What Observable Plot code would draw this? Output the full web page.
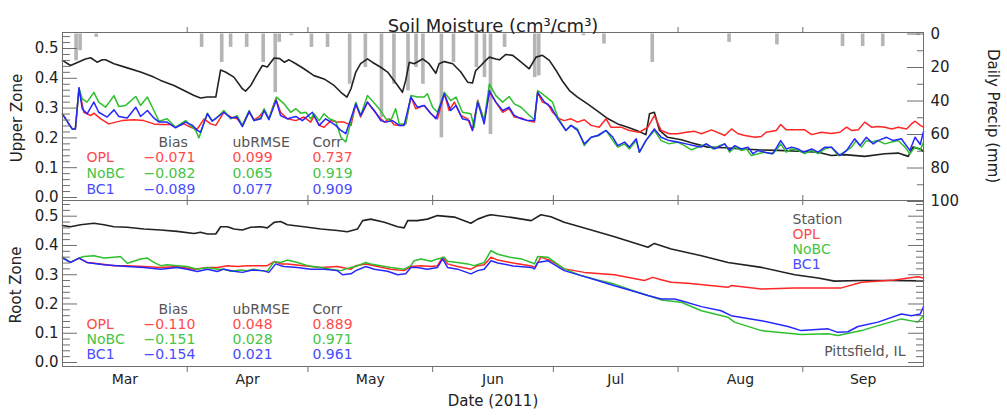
<!DOCTYPE html>
<html><head><meta charset="utf-8">
<script src="https://cdn.jsdelivr.net/npm/d3@7"></script>
<script src="https://cdn.jsdelivr.net/npm/@observablehq/plot@0.6"></script>
<style>
body{margin:0;background:#fff;}
#chart{position:relative;width:1007px;height:419px;overflow:hidden;background:#fff;}
#chart svg{position:absolute;left:0;overflow:visible;}
.rlbl{position:absolute;white-space:nowrap;font-family:"DejaVu Sans";color:#222;line-height:1;}
</style></head><body><div id="chart"></div>
<script>
// ---- data (day offset from 2011-03-01, value) ----
const upperStation = [[0,0.46],[2,0.443],[5.7,0.465],[7,0.469],[8.6,0.454],[9.9,0.462],[10.7,0.462],[12.8,0.449],[16.1,0.435],[19.4,0.421],[22.7,0.404],[24.4,0.393],[27.7,0.376],[30.2,0.359],[32.7,0.342],[34.3,0.334],[36,0.337],[38.1,0.337],[39.3,0.428],[40.5,0.421],[42.6,0.404],[44.7,0.365],[45.5,0.357],[46.8,0.376],[48.4,0.415],[49.7,0.443],[50.9,0.438],[52.6,0.468],[54,0.466],[55.1,0.454],[56.3,0.462],[58,0.449],[60,0.432],[62.5,0.409],[65,0.398],[67.5,0.376],[69.2,0.353],[70.7,0.337],[71.7,0.365],[72.9,0.421],[74.1,0.449],[75.8,0.465],[77,0.454],[79.1,0.437],[80.8,0.421],[83.3,0.376],[84.5,0.353],[85.3,0.393],[86.2,0.454],[87.4,0.449],[89.5,0.465],[91.1,0.449],[92.8,0.417],[93.6,0.449],[94.9,0.456],[97,0.449],[99,0.421],[100.7,0.387],[101.9,0.384],[102.7,0.426],[104,0.443],[105.2,0.46],[106.1,0.471],[107.7,0.465],[108.6,0.462],[110.2,0.48],[111.9,0.477],[114,0.454],[116,0.432],[117.7,0.471],[119.3,0.477],[121,0.46],[122.7,0.426],[124.3,0.39],[126,0.359],[128,0.337],[130.5,0.314],[133,0.29],[135.5,0.265],[138,0.247],[140.5,0.236],[143,0.223],[145,0.211],[145.9,0.281],[147.1,0.286],[148.4,0.225],[150.4,0.202],[153.8,0.194],[156.3,0.184],[160.4,0.169],[164.6,0.167],[168.7,0.163],[172.9,0.16],[177.9,0.158],[182.8,0.155],[187.8,0.152],[191.1,0.141],[194.4,0.144],[199.4,0.138],[204.4,0.147],[207.7,0.149],[210.2,0.138],[211.4,0.169],[213.2,0.163],[214,0.155]];
const upperOPL = [[0,0.28],[2.4,0.23],[3.2,0.23],[4.1,0.365],[5.3,0.286],[7,0.275],[7.8,0.283],[9.5,0.264],[11.5,0.247],[13.2,0.253],[14.8,0.258],[17.7,0.261],[20.2,0.258],[22.7,0.247],[24.4,0.245],[26.9,0.245],[28.1,0.236],[30.2,0.247],[31.8,0.236],[33.5,0.23],[35.2,0.264],[36.8,0.247],[38.1,0.242],[40.1,0.286],[41.8,0.27],[43.4,0.264],[44.7,0.242],[46.4,0.286],[47.6,0.261],[48.8,0.27],[50.1,0.292],[51.3,0.264],[53,0.331],[54.2,0.286],[55.9,0.264],[58,0.258],[60,0.27],[61.7,0.253],[62.5,0.275],[63.8,0.242],[65,0.236],[66.7,0.258],[68.3,0.253],[70,0.253],[71.7,0.242],[72.9,0.314],[74.1,0.27],[75.8,0.32],[77,0.298],[78.7,0.27],[80,0.253],[81.2,0.264],[82.4,0.244],[84.1,0.242],[85.3,0.247],[86.6,0.337],[87.8,0.298],[89.9,0.309],[91.6,0.281],[93.2,0.264],[94.9,0.348],[96.1,0.292],[97.4,0.32],[99,0.275],[100.7,0.264],[101.9,0.225],[103.2,0.326],[104.8,0.258],[106.1,0.353],[107.7,0.32],[109.4,0.286],[111,0.298],[112.3,0.27],[114,0.267],[115.6,0.258],[117.3,0.253],[118.1,0.353],[119.3,0.32],[120.6,0.314],[121.8,0.286],[123.5,0.264],[124.7,0.258],[126.4,0.264],[128,0.253],[129.7,0.261],[131.4,0.242],[133.4,0.236],[135.1,0.264],[136.3,0.236],[138.8,0.236],[140.9,0.225],[143.4,0.219],[145.5,0.236],[147.1,0.275],[148.8,0.225],[150.8,0.214],[152.9,0.214],[155,0.219],[157.1,0.222],[158.8,0.214],[161.3,0.227],[164.6,0.208],[166.3,0.23],[167.9,0.214],[169.6,0.208],[172.1,0.202],[173.7,0.205],[174.9,0.219],[177.4,0.225],[178.5,0.245],[179.9,0.227],[182,0.227],[184.5,0.227],[186.2,0.211],[188.6,0.219],[191.1,0.215],[193.2,0.219],[194.9,0.236],[196.1,0.225],[197.8,0.227],[199.4,0.253],[201.1,0.236],[202.7,0.238],[204.4,0.236],[206.1,0.23],[207.7,0.236],[209.8,0.23],[211,0.247],[211.9,0.256],[213.2,0.242],[214,0.236]];
const upperNoBC = [[0,0.28],[2.4,0.23],[3.2,0.23],[4.1,0.368],[4.9,0.331],[6.1,0.32],[7.8,0.353],[9,0.32],[10.7,0.303],[12.8,0.342],[14,0.305],[15.7,0.309],[18.2,0.339],[19.4,0.309],[21.1,0.337],[22.7,0.292],[24,0.256],[26,0.264],[28.1,0.236],[30.6,0.258],[31.8,0.242],[33.1,0.225],[33.9,0.2],[36,0.283],[37.2,0.258],[38.1,0.264],[40.1,0.292],[41.8,0.264],[43.4,0.275],[44.7,0.242],[46.4,0.292],[47.6,0.258],[49.3,0.267],[50.1,0.298],[51.3,0.264],[53.2,0.337],[55.1,0.314],[56.7,0.286],[58,0.298],[59.2,0.283],[60.5,0.286],[61.7,0.264],[62.5,0.281],[63.8,0.258],[65,0.281],[66.3,0.264],[67.9,0.256],[69.2,0.202],[70.4,0.186],[72.9,0.32],[74.1,0.275],[75.8,0.342],[77,0.325],[78.7,0.298],[80.4,0.264],[81.6,0.258],[82.8,0.298],[83.7,0.247],[85.3,0.247],[86.6,0.342],[88.2,0.337],[89.9,0.337],[90.7,0.348],[92,0.303],[93.2,0.286],[94.9,0.353],[96.5,0.325],[97.8,0.337],[99.4,0.286],[101.5,0.281],[102.3,0.236],[103.2,0.325],[104.8,0.258],[106.1,0.381],[107.7,0.342],[109.4,0.32],[111,0.339],[112.3,0.314],[114,0.303],[115.6,0.281],[117.3,0.261],[118.1,0.359],[119.8,0.342],[121.8,0.32],[123.1,0.27],[125.1,0.225],[126.4,0.242],[128,0.23],[129.7,0.174],[131.4,0.202],[133.4,0.208],[135.1,0.225],[136.8,0.191],[138,0.169],[139.7,0.18],[140.9,0.163],[142.6,0.191],[143.4,0.152],[145,0.191],[147.1,0.225],[148.8,0.191],[150.8,0.18],[152.9,0.186],[154.6,0.174],[156.3,0.16],[158,0.169],[160,0.18],[161.7,0.163],[163.3,0.174],[164.6,0.18],[165.8,0.152],[167.1,0.169],[168.7,0.158],[170,0.163],[171.2,0.141],[172.9,0.147],[174.5,0.152],[176.2,0.147],[177.4,0.158],[178.5,0.18],[179.9,0.152],[181.2,0.163],[182.8,0.158],[184.5,0.147],[186.2,0.158],[187.8,0.147],[189.5,0.163],[191.1,0.169],[192.8,0.141],[194.4,0.152],[196.1,0.169],[197.3,0.191],[198.6,0.169],[199.8,0.191],[201.1,0.186],[202.7,0.191],[204.4,0.18],[206.1,0.186],[207.7,0.191],[209.4,0.169],[210.6,0.147],[211.9,0.169],[213.2,0.16],[214,0.185]];
const upperBC1 = [[0,0.28],[2.4,0.23],[3.2,0.23],[4.1,0.368],[4.9,0.298],[6.1,0.281],[7.8,0.32],[9,0.286],[11.1,0.27],[12.8,0.294],[14,0.272],[16.1,0.267],[18.2,0.303],[19.4,0.272],[21.1,0.292],[22.7,0.267],[24,0.253],[26,0.253],[28.1,0.234],[30.6,0.253],[32.3,0.242],[33.5,0.225],[34.3,0.219],[36,0.281],[37.2,0.256],[40.1,0.286],[41.8,0.267],[43.4,0.27],[44.7,0.238],[46.4,0.289],[47.6,0.258],[49.3,0.264],[50.1,0.292],[51.3,0.261],[53.1,0.326],[54.2,0.275],[55.9,0.264],[58,0.272],[59.6,0.258],[62.1,0.286],[63.8,0.242],[65.4,0.264],[66.7,0.253],[67.9,0.242],[69.2,0.225],[70.4,0.214],[72.9,0.314],[74.1,0.275],[75.8,0.32],[77.5,0.292],[79.1,0.258],[80.4,0.253],[82,0.258],[83.7,0.242],[84.9,0.242],[86.6,0.337],[88.2,0.303],[89.9,0.309],[91.6,0.281],[92.8,0.264],[94.9,0.348],[96.5,0.292],[97.8,0.309],[99.4,0.264],[101.1,0.258],[101.9,0.225],[103.2,0.32],[104.8,0.247],[106.1,0.359],[107.7,0.32],[109.4,0.292],[111,0.303],[112.3,0.275],[114,0.264],[115.6,0.258],[117.3,0.258],[118.1,0.353],[119.8,0.32],[121.4,0.303],[123.1,0.264],[125.1,0.225],[126.4,0.242],[128,0.225],[129.7,0.18],[131.4,0.202],[133,0.208],[135.1,0.225],[136.8,0.202],[138,0.174],[139.7,0.186],[140.9,0.169],[142.6,0.197],[143.4,0.152],[145,0.191],[147.1,0.23],[148.8,0.202],[150.8,0.191],[152.9,0.186],[155,0.18],[157.1,0.174],[158.7,0.169],[160,0.18],[162.1,0.163],[164.6,0.18],[165.8,0.158],[167.1,0.174],[168.7,0.163],[170.4,0.169],[171.6,0.147],[172.9,0.158],[174.5,0.152],[176.6,0.147],[178.5,0.191],[179.9,0.163],[181.2,0.169],[182.8,0.163],[184.1,0.152],[186.2,0.163],[187.8,0.152],[189.5,0.169],[191.1,0.169],[193.2,0.141],[194.9,0.158],[196.9,0.197],[198.2,0.174],[199.8,0.202],[201.5,0.18],[202.7,0.191],[204.8,0.202],[206.5,0.191],[208.5,0.197],[210.6,0.158],[211.9,0.202],[213.2,0.178],[214,0.222]];

const lowerStation = [[0,0.468],[2,0.464],[4.5,0.471],[7.8,0.476],[10.3,0.471],[12.8,0.464],[16.1,0.462],[20.2,0.456],[24.4,0.453],[28.5,0.448],[32.7,0.441],[34.3,0.445],[36,0.439],[38.1,0.439],[39.3,0.464],[41,0.464],[42.6,0.456],[44.7,0.453],[46.8,0.462],[49.3,0.464],[50.9,0.46],[52.6,0.479],[54.2,0.482],[55.9,0.471],[60,0.464],[64.2,0.456],[68.3,0.451],[70.8,0.447],[73.3,0.456],[74.6,0.485],[76.6,0.49],[80,0.479],[83.3,0.464],[84.9,0.46],[85.8,0.485],[88.2,0.485],[90.7,0.49],[93.2,0.502],[97.4,0.497],[101.5,0.476],[103.2,0.49],[105.6,0.502],[106.5,0.505],[111.5,0.496],[116.5,0.485],[118.9,0.505],[121.4,0.498],[124.7,0.479],[129.7,0.46],[137.2,0.43],[145.5,0.394],[147.1,0.407],[151.3,0.388],[158.8,0.365],[165.4,0.342],[173.7,0.325],[182,0.3],[187.8,0.289],[191.9,0.278],[198.6,0.28],[205.2,0.28],[214,0.279]];
const lowerOPL = [[0,0.36],[2,0.342],[4.1,0.357],[6.1,0.342],[9.5,0.337],[12.8,0.331],[16.1,0.331],[20.2,0.328],[24.4,0.325],[28.5,0.328],[32.7,0.319],[36,0.325],[38.5,0.325],[41,0.331],[43.5,0.328],[45.9,0.331],[48.4,0.331],[50.9,0.331],[52.6,0.345],[54.2,0.337],[55.9,0.337],[60,0.331],[64.2,0.325],[68.3,0.328],[71.7,0.319],[72.9,0.331],[75.4,0.337],[78.3,0.328],[81.6,0.319],[84.9,0.314],[86.6,0.328],[89.1,0.331],[91.6,0.328],[93.2,0.331],[94.5,0.36],[95.7,0.337],[98.2,0.328],[101.5,0.319],[103.2,0.331],[104.8,0.334],[106.5,0.36],[108.2,0.35],[112,0.34],[116.5,0.33],[117.5,0.325],[118.9,0.36],[121.4,0.348],[124.7,0.32],[129.7,0.308],[137.2,0.3],[144.6,0.28],[146.7,0.291],[148.8,0.283],[151.3,0.274],[155.4,0.271],[165.4,0.257],[166.2,0.263],[173.7,0.251],[182,0.255],[193.6,0.255],[198.6,0.274],[206.8,0.282],[212.6,0.293],[214,0.289]];
const lowerNoBC = [[0,0.36],[2,0.342],[4.1,0.357],[5.3,0.362],[7.8,0.365],[10.3,0.357],[12.8,0.36],[14.4,0.362],[16.1,0.339],[17.7,0.346],[19.4,0.354],[21.1,0.357],[22.7,0.342],[24.4,0.331],[26,0.334],[28.5,0.331],[31,0.328],[33.5,0.319],[36,0.325],[38.5,0.319],[40.1,0.319],[41.8,0.312],[44.3,0.316],[45.9,0.314],[47.6,0.319],[49.3,0.314],[50.9,0.312],[52.6,0.345],[54.2,0.342],[55.9,0.35],[58.4,0.342],[60.9,0.331],[64.2,0.325],[66.7,0.319],[69.2,0.314],[71.7,0.325],[72.9,0.328],[75.4,0.342],[76.6,0.337],[79.1,0.331],[81.6,0.325],[84.9,0.319],[86.6,0.331],[87.4,0.348],[89.1,0.354],[91.6,0.346],[93.2,0.354],[94.9,0.36],[95.7,0.346],[98.2,0.342],[100.7,0.337],[102.3,0.331],[104.8,0.342],[106.5,0.382],[108.2,0.37],[111.2,0.36],[114.1,0.354],[116.5,0.342],[117.3,0.337],[118.1,0.362],[120.6,0.36],[124.7,0.32],[128.9,0.297],[133,0.282],[137.2,0.268],[141.3,0.248],[145.5,0.229],[148.8,0.214],[153.8,0.206],[158.8,0.177],[165.4,0.155],[167,0.138],[173.7,0.109],[183.6,0.096],[190.3,0.098],[192.7,0.092],[198.6,0.109],[202.7,0.126],[208.5,0.149],[212.6,0.138],[214,0.16]];
const lowerBC1 = [[0,0.357],[2,0.342],[4.1,0.357],[6.1,0.342],[10.3,0.334],[16.1,0.328],[20.2,0.325],[24.4,0.319],[28.5,0.325],[31,0.319],[33.5,0.311],[36,0.319],[38.5,0.311],[40.1,0.319],[42.6,0.312],[44.7,0.308],[47.2,0.316],[49.7,0.314],[51.3,0.308],[53,0.337],[54.2,0.331],[55.1,0.328],[58.4,0.325],[61.7,0.319],[65,0.319],[68.3,0.314],[69.6,0.3],[71.7,0.303],[72.9,0.314],[75.4,0.328],[77.5,0.319],[80.8,0.312],[83.3,0.3],[85.3,0.303],[86.6,0.325],[88.2,0.325],[90.7,0.319],[93.2,0.325],[94.5,0.354],[95.7,0.325],[98.2,0.319],[101.5,0.303],[103.2,0.314],[104.8,0.319],[106.5,0.348],[108.2,0.34],[112,0.33],[116.5,0.325],[117.3,0.32],[118.1,0.342],[120.6,0.348],[124.7,0.314],[128.9,0.297],[133,0.28],[137.2,0.262],[141.3,0.246],[145.5,0.229],[148.8,0.217],[152.1,0.217],[153.8,0.211],[158.8,0.191],[163.7,0.177],[166.2,0.16],[173.7,0.143],[180.3,0.123],[183.6,0.109],[190.3,0.115],[192.7,0.103],[195.2,0.105],[197.7,0.123],[202.7,0.138],[208.5,0.166],[211,0.16],[213.2,0.166],[214,0.191]];

const precipDay = [3.5,4.5,8.5,34.7,39.7,41.9,45.9,50,53,54,57,62,66,71.5,75.4,79.4,82.5,86,88,89.7,94.3,97.3,103,105,106.5,110,117.5,118.5,129.6,134.7,146.7,165.8,177.7,194,199,204,212.8];
const precipMM  = [16,10,2,8,17,8,8,17,35,5,1,8,8,30,20,50,30,34,20,30,62,17,20,26,60,8,26,25,1,6,17,5,6.5,7.5,7.5,7.5,1];

const modelNames = ["OPL","NoBC","BC1"];
const upperBias = [-0.071,-0.082,-0.089];
const upperUbRMSE = [0.099,0.065,0.077];
const upperCorr = [0.737,0.919,0.909];
const lowerBias = [-0.110,-0.151,-0.154];
const lowerUbRMSE = [0.048,0.028,0.021];
const lowerCorr = [0.889,0.971,0.961];
const legendNames = ["Station","OPL","NoBC","BC1"];

const monthNames = ["Mar","Apr","May","Jun","Jul","Aug","Sep"];
const monthStarts = ["2011-03-01","2011-04-01","2011-05-01","2011-06-01","2011-07-01","2011-08-01","2011-09-01","2011-10-01"];
const soilTicks = [0,0.1,0.2,0.3,0.4,0.5];
const precipTicks = [0,20,40,60,80,100];

// ---- helpers ----
const t0 = Date.UTC(2011,2,1);
const toDate = d => new Date(t0 + d*86400000);
const rows = arr => arr.map(([d,v]) => ({date: toDate(d), value: v}));
const starts = monthStarts.map(s => new Date(s + "T00:00:00Z"));
const monthLabels = monthNames.map((n,i) => ({name:n, date: new Date((+starts[i] + +starts[i+1])/2)}));
const innerTicks = starts.slice(1,-1);
const xDomain = [starts[0], starts[starts.length-1]];

const W = 1007, mL = 62, mR = 84, innerW = W - mL - mR;
const FONT = "DejaVu Sans";
const colors = {Station:"#222222", OPL:"#ff2626", NoBC:"#2dbf2d", BC1:"#2626ff"};
const textColors = {Station:"#555555", OPL:"#ff4a4a", NoBC:"#45c445", BC1:"#4a4aff"};
const axisGray = "#6e6e6e";
const minorSoil = d3.range(0.02, 0.55, 0.02).filter(v => Math.abs(v*10 - Math.round(v*10)) > 1e-6);
const minorPrecip = [10,30,50,70,90];
const fmt3 = d3.format(".3f");

const label = (txt, dx, dy, fill, size=14, anchor="top-left", tAnchor="start") =>
  Plot.text([txt], {text: d => d, frameAnchor: anchor, dx, dy, fill, fontSize: size,
    lineAnchor: "bottom", textAnchor: tAnchor, fontFamily: FONT});

function statsMarks(bias, rmse, corr, headerDy, rowDys) {
  const m = [
    label("Bias", 96, headerDy, "#555"),
    label("ubRMSE", 170, headerDy, "#555"),
    label("Corr", 250, headerDy, "#555")
  ];
  modelNames.forEach((n,i) => {
    const c = textColors[n];
    m.push(label(n, 24, rowDys[i], c));
    m.push(label(fmt3(bias[i]), 81, rowDys[i], c));
    m.push(label(fmt3(rmse[i]), 170, rowDys[i], c));
    m.push(label(fmt3(corr[i]), 250, rowDys[i], c));
  });
  return m;
}

function soilLines(st, opl, nobc, bc1) {
  return [
    Plot.line(rows(st), {x:"date", y:"value", stroke: colors.Station, strokeWidth: 1.6}),
    Plot.line(rows(opl), {x:"date", y:"value", stroke: colors.OPL, strokeWidth: 1.5}),
    Plot.line(rows(nobc), {x:"date", y:"value", stroke: colors.NoBC, strokeWidth: 1.5}),
    Plot.line(rows(bc1), {x:"date", y:"value", stroke: colors.BC1, strokeWidth: 1.5})
  ];
}

function leftSoilAxis() {
  return [
    Plot.tickY(soilTicks, {y: d => d, insetRight: innerW - 15, stroke: axisGray}),
    Plot.tickY(minorSoil, {y: d => d, insetRight: innerW - 8, stroke: axisGray}),
    Plot.text(soilTicks, {y: d => d, frameAnchor: "left", dx: -4, textAnchor: "end",
      text: d => d.toFixed(1), fontSize: 15, fill: "#222", fontFamily: FONT})
  ];
}

const baseStyle = {background: "transparent", fontFamily: FONT, overflow: "visible"};

// ---- upper panel: precipitation (right axis) ----
const upperH = 200, upperTop = 32;
const precipPlot = Plot.plot({
  width: W, height: upperH, marginLeft: mL, marginRight: mR, marginTop: upperTop, marginBottom: 0,
  style: baseStyle,
  x: {type: "utc", domain: xDomain, axis: null},
  y: {domain: [0, 100], range: [33.5, 201], axis: null},
  marks: [
    Plot.rect(precipDay.map((d,i) => ({d, mm: precipMM[i]})), {
      x1: p => toDate(p.d - 0.45), x2: p => toDate(p.d + 0.45),
      y1: () => 0, y2: p => p.mm, fill: "#b5b5b5"}),
    Plot.tickY(precipTicks, {y: d => d, insetLeft: innerW - 16, stroke: axisGray}),
    Plot.tickY(minorPrecip, {y: d => d, insetLeft: innerW - 6, stroke: axisGray}),
    Plot.text(precipTicks, {y: d => d, frameAnchor: "right", dx: 7, textAnchor: "start",
      text: d => String(d), fontSize: 15, fill: "#222", fontFamily: FONT})
  ]
});

// ---- upper panel: soil moisture ----
const upperPlot = Plot.plot({
  width: W, height: upperH, marginLeft: mL, marginRight: mR, marginTop: upperTop, marginBottom: 0,
  style: baseStyle,
  x: {type: "utc", domain: xDomain, axis: null},
  y: {domain: [0, 0.5], range: [197, 48], axis: null},
  marks: [
    ...soilLines(upperStation, upperOPL, upperNoBC, upperBC1),
    ...leftSoilAxis(),
    Plot.tickX(innerTicks, {x: d => d, insetTop: -5, insetBottom: upperH - upperTop, stroke: axisGray}),
    Plot.tickX(innerTicks, {x: d => d, insetTop: upperH - upperTop - 5, stroke: axisGray}),
    Plot.frame({stroke: axisGray}),
    ...statsMarks(upperBias, upperUbRMSE, upperCorr, 114, [129, 145, 161]),
    Plot.text(["Soil Moisture (cm³/cm³)"], {frameAnchor: "top", dy: -13, fontSize: 18, fill: "#222", fontFamily: FONT})
  ]
});

// ---- lower panel: root zone ----
const lowerH = 219, lowerBottom = 53, lowerInnerH = lowerH - lowerBottom;
const lowerPlot = Plot.plot({
  width: W, height: lowerH, marginLeft: mL, marginRight: mR, marginTop: 0, marginBottom: lowerBottom,
  style: baseStyle,
  x: {type: "utc", domain: xDomain, axis: null},
  y: {domain: [0, 0.5], range: [162, 15.7], axis: null},
  marks: [
    ...soilLines(lowerStation, lowerOPL, lowerNoBC, lowerBC1),
    ...leftSoilAxis(),
    Plot.tickY(soilTicks, {y: d => d, insetLeft: innerW - 15, stroke: axisGray}),
    Plot.tickY(minorSoil, {y: d => d, insetLeft: innerW - 7, stroke: axisGray}),
    Plot.tickX(innerTicks, {x: d => d, insetBottom: lowerInnerH - 5, stroke: axisGray}),
    Plot.tickX(innerTicks, {x: d => d, insetTop: lowerInnerH, insetBottom: -6, stroke: axisGray}),
    Plot.frame({stroke: axisGray}),
    ...statsMarks(lowerBias, lowerUbRMSE, lowerCorr, 113, [128, 143, 158]),
    ...legendNames.map((n,i) => label(n, 730, 23 + 15*i, textColors[n])),
    label("Pittsfield, IL", -18, 155, "#555", 14, "top-right", "end"),
    Plot.text(monthLabels, {x: d => d.date, frameAnchor: "bottom", dy: 17, text: d => d.name,
      fontSize: 14, fill: "#222", fontFamily: FONT}),
    Plot.text(["Date (2011)"], {frameAnchor: "bottom", dy: 39, fontSize: 15, fill: "#222", fontFamily: FONT})
  ]
});

const chart = document.getElementById("chart");
precipPlot.style.top = "0px";
upperPlot.style.top = "0px";
lowerPlot.style.top = upperH + "px";
chart.appendChild(precipPlot);
chart.appendChild(upperPlot);
chart.appendChild(lowerPlot);

// rotated axis titles
function rotLabel(text, cx, cy, deg, size) {
  const el = document.createElement("div");
  el.className = "rlbl";
  el.textContent = text;
  el.style.left = cx + "px";
  el.style.top = cy + "px";
  el.style.fontSize = size + "px";
  el.style.transform = `translate(-50%,-50%) rotate(${deg}deg)`;
  chart.appendChild(el);
}
rotLabel("Upper Zone", 17, 118, -90, 15);
rotLabel("Root Zone", 16, 285, -90, 15);
rotLabel("Daily Precip (mm)", 992, 116, 90, 15);
</script></body></html>
